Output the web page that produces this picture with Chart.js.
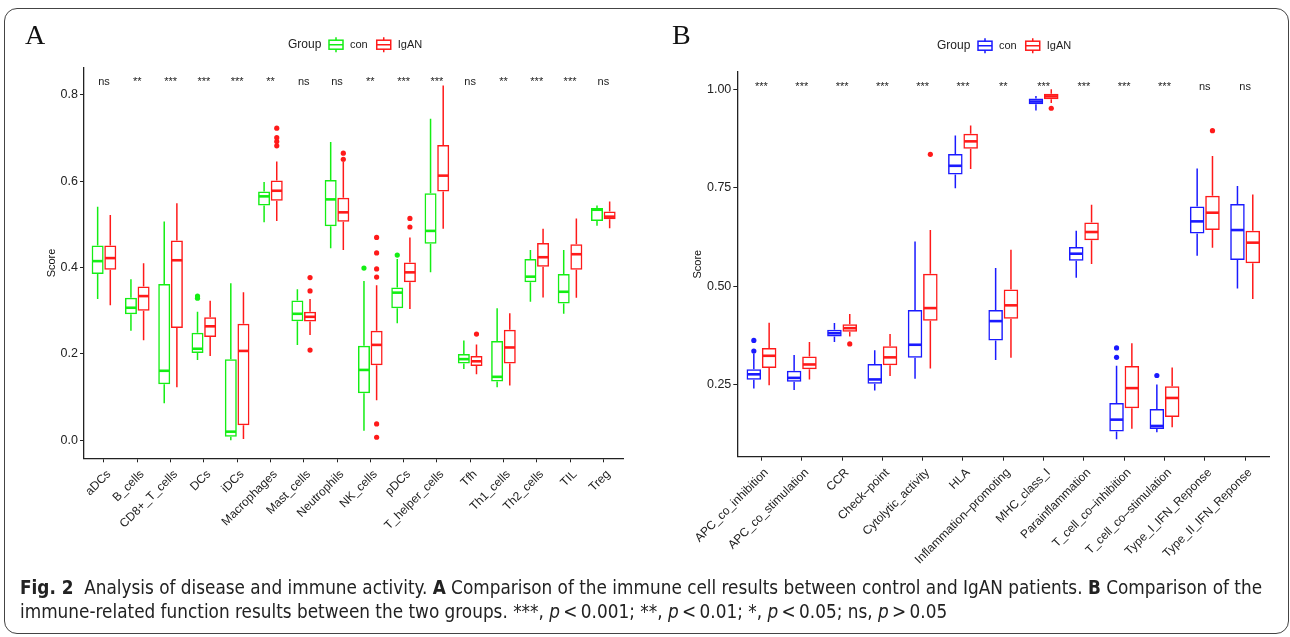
<!DOCTYPE html>
<html>
<head>
<meta charset="utf-8">
<script src="https://cdn.jsdelivr.net/npm/chart.js@4.4.0/dist/chart.umd.min.js"></script>
<style>
  html, body { margin: 0; padding: 0; background: #fff; }
  body { width: 1290px; height: 637px; position: relative; overflow: hidden; font-family: "Liberation Sans", Arial, sans-serif; }
  #frame { position: absolute; left: 4px; top: 8px; width: 1285px; height: 626px; border: 1.5px solid #444; border-radius: 13px; box-sizing: border-box; }
  .panel { position: absolute; top: 0; }
  .letter { position: absolute; top: 21px; font-family: "Liberation Serif", "DejaVu Serif", serif; font-size: 28px; line-height: 28px; color: #111; }
  #caption { position: absolute; left: 20px; top: 575px; font-family: "DejaVu Sans Condensed", "DejaVu Sans", sans-serif; font-stretch: condensed; font-size: 19px; line-height: 24px; color: #222; white-space: nowrap; transform-origin: 0 0; }
  #caption span { display: inline-block; }
</style>
</head>
<body>
<div id="frame"></div>
<div class="panel" style="left:0;width:650px;height:576px"><canvas id="chart-a" width="650" height="576"></canvas></div>
<div class="panel" style="left:650px;width:640px;height:576px"><canvas id="chart-b" width="640" height="576"></canvas></div>
<div class="letter" style="left:25px">A</div>
<div class="letter" style="left:672px">B</div>
<div id="caption"><span id="cap1"><b>Fig. 2</b>&nbsp; Analysis of disease and immune activity. <b>A</b> Comparison of the immune cell results between control and IgAN patients. <b>B</b> Comparison of the</span><br><span>immune-related function results between the two groups. ***, <i>p</i>&thinsp;&lt;&thinsp;0.001; **, <i>p</i>&thinsp;&lt;&thinsp;0.01; *, <i>p</i>&thinsp;&lt;&thinsp;0.05; ns, <i>p</i>&thinsp;&gt;&thinsp;0.05</span></div>

<script>
// ============================================================
// PANEL A — immune cells. Each box: [min, q1, median, q3, max]
// ============================================================
const catsA = ['aDCs', 'B_cells', 'CD8+_T_cells', 'DCs', 'iDCs', 'Macrophages', 'Mast_cells', 'Neutrophils',
               'NK_cells', 'pDCs', 'T_helper_cells', 'Tfh', 'Th1_cells', 'Th2_cells', 'TIL', 'Treg'];
const conA = [
  [0.327, 0.385, 0.415, 0.451, 0.541],
  [0.254, 0.292, 0.307, 0.330, 0.373],
  [0.086, 0.130, 0.161, 0.362, 0.507],
  [0.186, 0.202, 0.212, 0.249, 0.298],
  [0.000, 0.008, 0.020, 0.188, 0.364],
  [0.505, 0.544, 0.565, 0.576, 0.598],
  [0.221, 0.276, 0.293, 0.324, 0.350],
  [0.445, 0.496, 0.558, 0.603, 0.691],
  [0.022, 0.109, 0.163, 0.219, 0.369],
  [0.271, 0.306, 0.342, 0.354, 0.420],
  [0.389, 0.455, 0.485, 0.572, 0.745],
  [0.165, 0.178, 0.188, 0.200, 0.231],
  [0.123, 0.136, 0.147, 0.230, 0.306],
  [0.321, 0.366, 0.379, 0.420, 0.441],
  [0.293, 0.317, 0.344, 0.385, 0.441],
  [0.497, 0.508, 0.534, 0.538, 0.544],
];
const igaA = [
  [0.313, 0.395, 0.422, 0.451, 0.522],
  [0.232, 0.300, 0.334, 0.356, 0.410],
  [0.123, 0.260, 0.417, 0.463, 0.549],
  [0.195, 0.239, 0.264, 0.285, 0.323],
  [0.003, 0.035, 0.207, 0.270, 0.343],
  [0.508, 0.555, 0.578, 0.602, 0.646],
  [0.244, 0.275, 0.286, 0.298, 0.327],
  [0.441, 0.506, 0.528, 0.562, 0.646],
  [0.093, 0.174, 0.221, 0.254, 0.359],
  [0.304, 0.366, 0.389, 0.412, 0.470],
  [0.490, 0.576, 0.613, 0.684, 0.822],
  [0.153, 0.172, 0.183, 0.195, 0.222],
  [0.127, 0.178, 0.215, 0.256, 0.294],
  [0.331, 0.402, 0.424, 0.457, 0.490],
  [0.330, 0.395, 0.431, 0.454, 0.514],
  [0.491, 0.512, 0.518, 0.530, 0.553],
];
const conOutA = [[], [], [], [0.334, 0.329], [], [], [], [], [0.399], [0.429], [], [], [], [], [], []];
const igaOutA = [[], [], [], [], [], [0.723, 0.701, 0.692, 0.682], [0.377, 0.346, 0.209], [0.665, 0.651],
                 [0.470, 0.434, 0.397, 0.378, 0.038, 0.007], [0.514, 0.494], [], [0.246], [], [], [], []];
const sigA   = ['ns', '**', '***', '***', '***', '**', 'ns', 'ns', '**', '***', '***', 'ns', '**', '***', '***', 'ns'];
const ticksA = [0.0, 0.2, 0.4, 0.6, 0.8];

// ============================================================
// PANEL B — immune-related functions
// ============================================================
const catsB = ['APC_co_inhibition', 'APC_co_stimulation', 'CCR', 'Check\u2013point', 'Cytolytic_activity', 'HLA',
               'Inflammation\u2013promoting', 'MHC_class_I', 'Parainflammation', 'T_cell_co\u2013inhibition',
               'T_cell_co\u2013stimulation', 'Type_I_IFN_Reponse', 'Type_II_IFN_Reponse'];
const conB = [
  [0.241, 0.263, 0.277, 0.290, 0.329],
  [0.237, 0.258, 0.268, 0.286, 0.326],
  [0.359, 0.373, 0.381, 0.390, 0.407],
  [0.236, 0.253, 0.264, 0.303, 0.338],
  [0.266, 0.319, 0.352, 0.440, 0.614],
  [0.749, 0.784, 0.806, 0.836, 0.883],
  [0.313, 0.363, 0.412, 0.440, 0.547],
  [0.946, 0.962, 0.969, 0.977, 0.983],
  [0.522, 0.565, 0.583, 0.600, 0.641],
  [0.112, 0.132, 0.162, 0.204, 0.299],
  [0.130, 0.138, 0.146, 0.189, 0.251],
  [0.578, 0.634, 0.665, 0.703, 0.799],
  [0.495, 0.567, 0.643, 0.709, 0.755],
];
const igaB = [
  [0.249, 0.293, 0.324, 0.344, 0.408],
  [0.264, 0.290, 0.302, 0.322, 0.359],
  [0.373, 0.385, 0.394, 0.404, 0.430],
  [0.273, 0.300, 0.320, 0.348, 0.379],
  [0.292, 0.413, 0.445, 0.532, 0.643],
  [0.798, 0.849, 0.868, 0.887, 0.908],
  [0.319, 0.418, 0.452, 0.492, 0.593],
  [0.965, 0.975, 0.982, 0.989, 1.000],
  [0.557, 0.617, 0.638, 0.662, 0.707],
  [0.139, 0.191, 0.242, 0.298, 0.356],
  [0.143, 0.169, 0.217, 0.247, 0.294],
  [0.598, 0.643, 0.687, 0.730, 0.831],
  [0.468, 0.559, 0.611, 0.641, 0.733],
];
const conOutB = [[0.363, 0.336], [], [], [], [], [], [], [], [], [0.344, 0.320], [0.274], [], []];
const igaOutB = [[], [], [0.354], [], [0.835], [], [], [0.952], [], [], [], [0.895], []];
const sigB   = ['***', '***', '***', '***', '***', '***', '**', '***', '***', '***', '***', 'ns', 'ns'];
const ticksB = [0.25, 0.50, 0.75, 1.00];

const GREEN = '#14EE14';
const RED   = '#FF1A1A';
const BLUE  = '#1A1AFF';
const INK   = '#222';

// ============================================================
// PLUGIN — whiskers, medians, outliers and significance marks
// ============================================================
const boxPlugin = {
  id: 'boxes',
  afterDatasetsDraw(chart, args, opts) {
    const ctx = chart.ctx;
    const yS = chart.scales.y;
    const xS = chart.scales.x;
    chart.data.datasets.forEach((ds, i) => {
      chart.getDatasetMeta(i).data.forEach((bar, j) => {
        const b = ds.stats[j];
        const x = bar.x, w = bar.width;
        ctx.save();
        ctx.strokeStyle = ds.borderColor;
        ctx.lineWidth = 1.5;
        ctx.beginPath();
        ctx.moveTo(x, yS.getPixelForValue(b[3]));
        ctx.lineTo(x, yS.getPixelForValue(b[4]));
        ctx.moveTo(x, yS.getPixelForValue(b[1]));
        ctx.lineTo(x, yS.getPixelForValue(b[0]));
        ctx.stroke();
        ctx.lineWidth = 2.6;
        const ym = yS.getPixelForValue(b[2]);
        ctx.beginPath();
        ctx.moveTo(x - w / 2 + 0.75, ym);
        ctx.lineTo(x + w / 2 - 0.75, ym);
        ctx.stroke();
        ctx.fillStyle = ds.borderColor;
        ds.outliers[j].forEach(v => {
          ctx.beginPath();
          ctx.arc(x, yS.getPixelForValue(v), 2.6, 0, Math.PI * 2);
          ctx.fill();
        });
        ctx.restore();
      });
    });
    // etiquetas de significancia
    ctx.save();
    ctx.fillStyle = INK;
    ctx.font = '11px "Liberation Sans", Arial, sans-serif';
    ctx.textAlign = 'center';
    ctx.textBaseline = 'alphabetic';
    opts.labels.forEach((s, i) => {
      ctx.fillText(s, xS.getPixelForValue(i), yS.getPixelForValue(opts.y));
    });
    ctx.restore();
  }
};

// ============================================================
// PLUGIN — ggplot style legend "Group  [] con  [] IgAN"
// ============================================================
const legendPlugin = {
  id: 'groupLegend',
  afterDraw(chart, args, opts) {
    const ctx = chart.ctx;
    const cy = opts.y;
    ctx.save();
    ctx.fillStyle = INK;
    ctx.textBaseline = 'middle';
    ctx.font = '12px "Liberation Sans", Arial, sans-serif';
    ctx.fillText('Group', opts.x, cy);
    let x = opts.x + 41;
    ctx.font = '11px "Liberation Sans", Arial, sans-serif';
    chart.data.datasets.forEach(ds => {
      ctx.strokeStyle = ds.borderColor;
      ctx.lineWidth = 1.5;
      ctx.strokeRect(x, cy - 4.5, 14, 9);
      ctx.beginPath();
      ctx.moveTo(x + 7, cy - 7.5); ctx.lineTo(x + 7, cy - 4.5);
      ctx.moveTo(x + 7, cy + 4.5); ctx.lineTo(x + 7, cy + 7.5);
      ctx.moveTo(x, cy); ctx.lineTo(x + 14, cy);
      ctx.stroke();
      ctx.fillStyle = INK;
      ctx.fillText(ds.label, x + 21, cy);
      x += 21 + ctx.measureText(ds.label).width + 9;
    });
    ctx.restore();
  }
};

// ============================================================
// CONSTRUIR UNA GRÁFICA DE CAJAS
// ============================================================
function drawBoxChart(id, p) {
  const n = p.cats.length;
  const mkSet = (label, boxes, outs, color) => ({
    label,
    data: boxes.map((b, i) => ({ x: i, y: [b[1], b[3]] })),
    stats: boxes,
    outliers: outs,
    borderColor: color,
    backgroundColor: 'rgba(255,255,255,0)',
    borderWidth: 1.5,
    borderSkipped: false,
    categoryPercentage: 0.76,
    barPercentage: 0.95,
  });

  return new Chart(document.getElementById(id), {
    type: 'bar',
    data: {
      datasets: [
        mkSet('con', p.con, p.conOut, p.conColor),
        mkSet('IgAN', p.iga, p.igaOut, RED),
      ]
    },
    plugins: [boxPlugin, legendPlugin],
    options: {
      responsive: false,
      animation: false,
      events: [],
      layout: { padding: p.padding },
      plugins: {
        legend: { display: false },
        tooltip: { enabled: false },
        boxes: { labels: p.sig, y: p.sigY },
        groupLegend: { x: p.legendX, y: p.legendY },
      },
      scales: {
        x: {
          type: 'linear',
          offset: false,
          min: -0.6,
          max: n - 0.4,
          afterBuildTicks: axis => { axis.ticks = p.cats.map((c, i) => ({ value: i })); },
          afterFit: axis => { axis.height = p.xHeight; },
          ticks: {
            callback: v => p.cats[v],
            minRotation: 45, maxRotation: 45,
            autoSkip: false,
            padding: 5,
            labelOffset: 5,
            color: INK,
            font: { size: 12, family: '"Liberation Sans", Arial, sans-serif' },
          },
          grid: { display: true, drawOnChartArea: false, drawTicks: true, tickLength: 4, color: INK, offset: false },
          border: { display: true, color: INK, width: 1.3 },
        },
        y: {
          min: p.yMin,
          max: p.yMax,
          afterBuildTicks: axis => { axis.ticks = p.ticks.map(v => ({ value: v })); },
          afterFit: axis => { axis.width = p.yWidth; },
          title: { display: true, text: 'Score', color: '#111', font: { size: 11, family: '"Liberation Sans", Arial, sans-serif' }, padding: { top: 4, bottom: 0 } },
          ticks: {
            callback: v => v.toFixed(p.dec),
            padding: 2,
            color: INK,
            font: { size: 12.5, family: '"Liberation Sans", Arial, sans-serif' },
          },
          grid: { display: true, drawOnChartArea: false, drawTicks: true, tickLength: 4, color: INK },
          border: { display: true, color: INK, width: 1.3 },
        }
      }
    }
  });
}

drawBoxChart('chart-a', {
  cats: catsA, con: conA, iga: igaA, conOut: conOutA, igaOut: igaOutA, conColor: GREEN,
  sig: sigA, sigY: 0.823, ticks: ticksA, dec: 1, yMin: -0.0417, yMax: 0.863,
  padding: { left: 41, right: 26.7, top: 67.7, bottom: 0 }, yWidth: 43, xHeight: 117.7,
  legendX: 288, legendY: 44.7,
});

drawBoxChart('chart-b', {
  cats: catsB, con: conB, iga: igaB, conOut: conOutB, igaOut: igaOutB, conColor: BLUE,
  sig: sigB, sigY: 0.999, ticks: ticksB, dec: 2, yMin: 0.068, yMax: 1.0447,
  padding: { left: 37, right: 20.7, top: 71.7, bottom: 0 }, yWidth: 50.3, xHeight: 119.3,
  legendX: 287, legendY: 45.7,
});

// Ajustar el ancho del pie de figura al de la referencia
const cap = document.getElementById('caption');
const w1 = document.getElementById('cap1').getBoundingClientRect().width;
cap.style.transform = 'scaleX(' + (1242 / w1).toFixed(4) + ')';
</script>
</body>
</html>
